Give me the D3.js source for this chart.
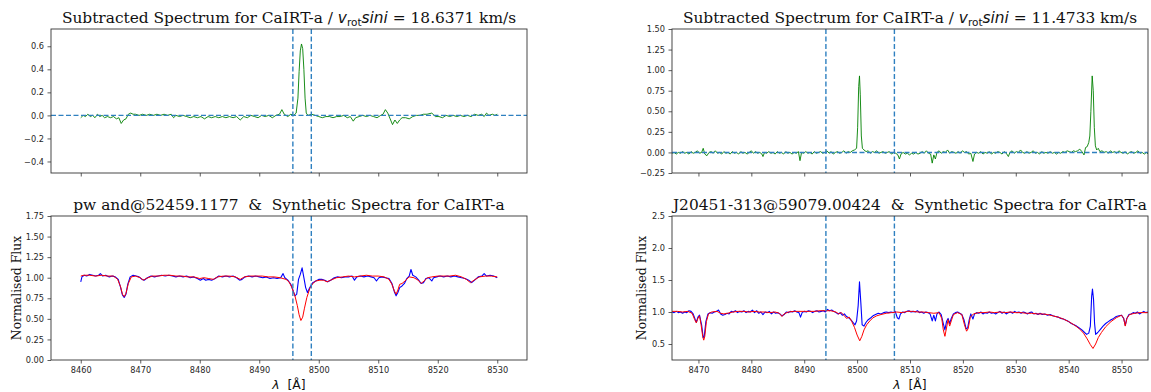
<!DOCTYPE html>
<html>
<head>
<meta charset="utf-8">
<script src="https://cdn.jsdelivr.net/npm/d3@7"></script>
<style>
  body { margin: 0; background: #fff; }
  svg { display: block; font-family: "DejaVu Sans", sans-serif; }
</style>
</head>
<body>
<div id="chart"></div>
<script>
// ---- data ----
// left star (pw and), wavelength in Angstrom, value
const subLeft = [[8460.0,-0.02],[8460.4,0.00],[8460.8,-0.01],[8461.2,0.01],[8461.6,-0.01],[8462.0,0.00],[8462.4,-0.02],[8462.8,0.01],[8463.2,-0.01],[8463.6,0.00],[8464.0,-0.02],[8464.5,-0.01],[8465.0,-0.02],[8465.5,-0.01],[8466.0,-0.03],[8466.4,-0.02],[8466.8,-0.07],[8467.2,-0.04],[8467.6,-0.03],[8468.0,0.01],[8468.4,0.02],[8468.8,0.01],[8469.2,0.01],[8469.8,0.00],[8470.4,0.01],[8471.0,0.00],[8471.6,0.01],[8472.2,0.00],[8472.8,0.01],[8473.4,0.00],[8474.0,0.01],[8474.6,0.00],[8475.2,0.01],[8475.6,-0.02],[8476.0,0.00],[8476.6,-0.01],[8477.2,0.00],[8477.8,-0.01],[8478.4,-0.02],[8479.0,-0.01],[8479.6,-0.02],[8480.2,-0.01],[8480.8,-0.03],[8481.4,-0.01],[8482.0,-0.02],[8482.6,-0.01],[8483.2,-0.02],[8483.8,-0.01],[8484.4,-0.02],[8485.0,-0.01],[8485.6,-0.02],[8486.2,-0.01],[8486.8,-0.04],[8487.4,-0.01],[8488.0,-0.02],[8488.6,0.00],[8489.2,-0.01],[8489.8,-0.02],[8490.4,0.00],[8491.0,-0.01],[8491.6,0.00],[8492.2,-0.02],[8492.8,0.00],[8493.4,0.01],[8493.8,0.05],[8494.2,0.01],[8494.8,-0.01],[8495.3,0.01],[8495.8,0.00],[8496.2,0.02],[8496.5,0.15],[8496.7,0.38],[8496.9,0.56],[8497.1,0.62],[8497.3,0.58],[8497.5,0.40],[8497.7,0.15],[8497.9,0.02],[8498.2,0.00],[8498.8,0.01],[8499.4,0.00],[8500.0,-0.01],[8500.6,-0.02],[8501.2,-0.01],[8501.8,-0.01],[8502.4,-0.02],[8503.0,-0.01],[8503.6,-0.01],[8504.2,0.00],[8504.8,-0.02],[8505.3,-0.01],[8505.8,-0.05],[8506.2,-0.02],[8506.8,-0.01],[8507.4,0.00],[8508.0,-0.01],[8508.6,0.00],[8509.2,-0.01],[8509.8,-0.02],[8510.4,0.00],[8510.8,0.01],[8511.2,0.05],[8511.6,0.02],[8512.0,-0.03],[8512.4,-0.08],[8512.8,-0.04],[8513.2,-0.07],[8513.6,-0.04],[8514.0,-0.02],[8514.6,-0.02],[8515.2,-0.03],[8515.8,-0.01],[8516.4,0.00],[8517.0,0.00],[8517.6,0.01],[8518.2,0.01],[8519.0,0.02],[8519.6,-0.01],[8520.2,-0.01],[8520.8,-0.02],[8521.4,0.00],[8522.0,-0.01],[8522.6,0.00],[8523.2,-0.01],[8523.8,0.00],[8524.4,-0.01],[8525.0,0.00],[8525.6,-0.01],[8526.2,0.01],[8526.8,0.00],[8527.4,0.01],[8527.8,-0.01],[8528.2,0.02],[8528.6,0.00],[8529.2,0.01],[8529.6,0.00],[8530.0,0.01]];

const obsLeft = [[8460.0,0.95],[8460.2,1.01],[8460.6,1.03],[8461.0,1.02],[8461.5,1.04],[8462.0,1.03],[8462.5,1.02],[8463.0,1.03],[8463.3,1.05],[8463.7,1.02],[8464.2,1.03],[8464.8,1.01],[8465.3,1.02],[8465.8,1.01],[8466.3,0.98],[8466.7,0.88],[8467.0,0.79],[8467.3,0.76],[8467.6,0.80],[8467.9,0.92],[8468.3,1.01],[8468.8,1.03],[8469.3,1.02],[8469.8,1.01],[8470.3,0.98],[8470.7,0.97],[8471.2,1.00],[8471.8,1.02],[8472.4,1.01],[8473.0,1.02],[8473.6,1.03],[8474.2,1.02],[8474.8,1.03],[8475.4,1.02],[8476.0,1.01],[8476.6,1.02],[8477.2,1.01],[8477.8,1.02],[8478.4,1.00],[8479.0,1.01],[8479.6,0.99],[8480.1,0.97],[8480.6,0.99],[8481.0,0.97],[8481.5,0.98],[8482.0,0.97],[8482.6,0.99],[8483.2,1.02],[8483.8,1.01],[8484.4,1.02],[8485.0,1.01],[8485.6,1.02],[8486.2,1.00],[8486.7,0.97],[8487.1,0.98],[8487.6,1.01],[8488.2,1.02],[8488.8,1.01],[8489.4,1.02],[8490.0,1.01],[8490.6,1.00],[8491.2,1.01],[8491.8,0.99],[8492.4,1.00],[8493.0,0.99],[8493.6,1.00],[8494.0,1.05],[8494.3,1.00],[8494.8,0.97],[8495.3,0.92],[8495.7,0.84],[8496.0,0.78],[8496.3,0.80],[8496.6,0.98],[8496.9,1.04],[8497.2,1.12],[8497.5,1.00],[8497.8,0.88],[8498.1,0.82],[8498.5,0.88],[8499.0,0.94],[8499.5,0.96],[8500.0,0.98],[8500.5,0.98],[8501.0,0.97],[8501.5,0.95],[8502.0,0.97],[8502.6,1.00],[8503.2,1.01],[8503.8,1.00],[8504.4,1.01],[8505.0,1.01],[8505.6,1.02],[8506.0,0.97],[8506.4,1.01],[8507.0,1.02],[8507.6,1.01],[8508.2,1.02],[8508.8,1.01],[8509.3,1.00],[8509.7,0.96],[8510.1,1.00],[8510.6,1.01],[8511.2,1.00],[8511.8,0.99],[8512.3,0.93],[8512.7,0.83],[8513.0,0.78],[8513.3,0.82],[8513.6,0.88],[8514.0,0.90],[8514.4,0.93],[8514.8,0.99],[8515.2,1.02],[8515.5,1.10],[8515.8,1.03],[8516.3,1.01],[8516.8,0.97],[8517.2,0.93],[8517.6,0.94],[8518.0,0.99],[8518.5,1.00],[8519.0,0.96],[8519.3,1.00],[8519.8,1.01],[8520.4,1.02],[8521.0,1.01],[8521.6,1.02],[8522.2,1.01],[8522.8,1.02],[8523.4,1.01],[8524.0,1.00],[8524.6,0.99],[8525.2,0.97],[8525.7,0.94],[8526.2,0.97],[8526.8,1.01],[8527.4,1.02],[8527.8,1.05],[8528.2,1.02],[8528.8,1.03],[8529.4,1.02],[8530.0,1.00]];

const synLeft = [[8460.0,1.02],[8460.5,1.03],[8461.5,1.03],[8462.5,1.02],[8463.5,1.03],[8464.5,1.02],[8465.5,1.02],[8466.2,0.98],[8466.7,0.89],[8467.0,0.80],[8467.3,0.77],[8467.6,0.81],[8468.0,0.93],[8468.5,1.01],[8469.2,1.02],[8470.0,1.00],[8470.5,0.97],[8471.0,0.99],[8472.0,1.02],[8473.0,1.02],[8474.0,1.03],[8475.0,1.03],[8476.0,1.02],[8477.0,1.02],[8478.0,1.01],[8479.0,1.01],[8480.0,0.99],[8480.7,1.00],[8481.5,0.99],[8482.3,0.98],[8483.0,1.01],[8484.0,1.02],[8485.0,1.02],[8486.0,1.01],[8486.8,0.98],[8487.5,1.01],[8488.5,1.02],[8489.5,1.02],[8490.5,1.02],[8491.5,1.01],[8492.5,1.01],[8493.5,1.00],[8494.5,0.98],[8495.0,0.95],[8495.5,0.88],[8496.0,0.78],[8496.4,0.66],[8496.7,0.55],[8497.0,0.48],[8497.3,0.52],[8497.6,0.63],[8498.0,0.76],[8498.5,0.87],[8499.0,0.93],[8499.5,0.96],[8500.2,0.97],[8500.8,0.97],[8501.4,0.95],[8502.0,0.97],[8503.0,1.00],[8504.0,1.01],[8505.0,1.02],[8506.0,1.01],[8507.0,1.02],[8508.0,1.03],[8509.0,1.02],[8510.0,1.02],[8511.0,1.01],[8511.8,0.98],[8512.3,0.92],[8512.7,0.84],[8513.0,0.80],[8513.3,0.85],[8513.6,0.92],[8514.0,0.93],[8514.5,0.96],[8515.2,1.01],[8516.0,1.00],[8516.7,0.97],[8517.2,0.93],[8517.7,0.96],[8518.3,1.00],[8519.0,1.01],[8520.0,1.02],[8521.0,1.02],[8522.0,1.02],[8523.0,1.03],[8524.0,1.01],[8524.8,0.98],[8525.5,0.94],[8526.1,0.97],[8527.0,1.01],[8528.0,1.02],[8529.0,1.02],[8530.0,1.01]];

// right star (J20451-313)
const subRight = [[8465.0,-0.01],[8465.4,0.00],[8465.8,-0.02],[8466.2,0.00],[8466.6,-0.01],[8467.0,0.01],[8467.4,-0.01],[8467.8,0.00],[8468.2,-0.02],[8468.6,0.01],[8469.0,-0.01],[8469.4,0.00],[8469.8,0.02],[8470.2,-0.01],[8470.6,0.00],[8470.9,0.05],[8471.2,-0.02],[8471.6,-0.04],[8472.0,0.00],[8472.4,0.01],[8472.8,-0.01],[8473.2,0.02],[8473.6,-0.01],[8474.0,0.00],[8474.4,-0.02],[8474.8,0.01],[8475.2,-0.01],[8475.6,0.00],[8476.0,-0.02],[8476.4,0.01],[8476.8,-0.01],[8477.2,0.00],[8477.6,-0.02],[8478.0,0.01],[8478.4,-0.01],[8478.8,0.00],[8479.2,-0.02],[8479.6,0.00],[8480.0,0.02],[8480.4,-0.01],[8480.8,0.01],[8481.2,-0.01],[8481.6,0.00],[8482.0,-0.02],[8482.2,-0.05],[8482.5,0.00],[8482.9,-0.01],[8483.3,0.01],[8483.7,-0.01],[8484.1,0.00],[8484.5,-0.02],[8484.9,0.01],[8485.3,-0.01],[8485.7,0.00],[8486.1,-0.02],[8486.5,0.01],[8486.9,-0.01],[8487.3,0.00],[8487.7,-0.02],[8488.1,0.00],[8488.5,-0.01],[8488.9,0.01],[8489.2,-0.10],[8489.5,0.00],[8489.9,-0.01],[8490.3,0.01],[8490.7,-0.01],[8491.1,0.00],[8491.5,-0.02],[8491.9,0.01],[8492.3,-0.01],[8492.7,0.00],[8493.1,0.01],[8493.5,-0.01],[8493.9,0.00],[8494.3,0.02],[8494.7,-0.01],[8495.1,0.01],[8495.5,-0.02],[8495.9,0.00],[8496.3,0.01],[8496.7,-0.01],[8497.1,0.00],[8497.5,0.02],[8497.9,-0.01],[8498.3,0.01],[8498.7,0.00],[8499.1,0.02],[8499.5,0.03],[8499.9,0.05],[8500.1,0.30],[8500.3,0.80],[8500.45,0.93],[8500.6,0.70],[8500.8,0.20],[8501.0,0.05],[8501.3,0.03],[8501.7,0.01],[8502.1,0.02],[8502.5,-0.01],[8502.9,0.01],[8503.3,0.00],[8503.7,0.02],[8504.1,-0.01],[8504.5,0.00],[8504.9,0.01],[8505.3,-0.01],[8505.7,0.00],[8506.1,0.01],[8506.5,-0.02],[8506.9,0.00],[8507.3,-0.01],[8507.7,-0.03],[8508.0,-0.08],[8508.3,-0.02],[8508.7,0.00],[8509.1,-0.02],[8509.5,-0.01],[8509.9,-0.03],[8510.3,-0.01],[8510.7,-0.02],[8511.1,0.00],[8511.5,-0.02],[8511.9,-0.01],[8512.3,0.01],[8512.7,-0.01],[8513.1,0.02],[8513.5,-0.01],[8513.9,-0.02],[8514.2,-0.13],[8514.5,-0.03],[8514.8,-0.08],[8515.1,0.00],[8515.5,0.02],[8515.9,-0.01],[8516.3,0.01],[8516.7,0.00],[8517.1,0.03],[8517.5,-0.01],[8517.9,0.01],[8518.3,0.00],[8518.7,-0.01],[8519.1,0.01],[8519.5,-0.01],[8519.9,0.02],[8520.3,0.00],[8520.7,0.01],[8521.1,-0.02],[8521.5,-0.01],[8521.9,-0.11],[8522.2,-0.02],[8522.6,0.00],[8523.0,-0.01],[8523.4,0.01],[8523.8,-0.02],[8524.2,0.00],[8524.6,-0.01],[8525.0,0.01],[8525.4,-0.02],[8525.8,0.00],[8526.2,-0.01],[8526.6,0.01],[8527.0,0.00],[8527.4,-0.02],[8527.8,0.01],[8528.2,-0.01],[8528.6,-0.05],[8528.9,0.00],[8529.3,0.02],[8529.7,-0.01],[8530.1,0.01],[8530.5,0.00],[8530.9,0.03],[8531.3,0.00],[8531.7,-0.01],[8532.1,0.01],[8532.5,-0.01],[8532.9,0.00],[8533.3,0.02],[8533.7,-0.01],[8534.1,0.00],[8534.5,-0.02],[8534.9,0.01],[8535.3,-0.01],[8535.7,0.00],[8536.1,-0.01],[8536.5,0.01],[8536.9,-0.01],[8537.3,0.00],[8537.7,-0.02],[8538.1,0.00],[8538.5,-0.01],[8538.9,0.01],[8539.3,0.00],[8539.7,0.02],[8540.1,0.01],[8540.5,0.00],[8540.9,0.02],[8541.3,0.01],[8541.7,0.02],[8542.1,0.04],[8542.5,0.01],[8542.9,-0.03],[8543.2,0.06],[8543.5,0.07],[8543.8,0.12],[8544.0,0.20],[8544.2,0.50],[8544.45,0.93],[8544.65,0.75],[8544.85,0.30],[8545.05,0.08],[8545.3,0.03],[8545.6,0.05],[8545.9,0.01],[8546.3,0.02],[8546.7,0.00],[8547.1,0.01],[8547.5,-0.01],[8547.9,0.02],[8548.3,0.00],[8548.7,0.01],[8549.1,-0.01],[8549.5,0.02],[8549.9,0.00],[8550.3,-0.01],[8550.7,0.01],[8551.1,-0.02],[8551.5,0.00],[8551.9,0.01],[8552.3,-0.01],[8552.7,0.00],[8553.1,0.02],[8553.5,-0.01],[8553.9,0.00],[8554.3,-0.02],[8554.7,0.00],[8555.0,-0.02]];

const obsRight = [[8465.0,1.00],[8465.4,0.99],[8465.8,1.01],[8466.2,0.99],[8466.6,1.00],[8467.0,0.98],[8467.4,1.00],[8467.8,0.99],[8468.2,1.02],[8468.6,1.01],[8469.0,0.97],[8469.4,0.88],[8469.6,0.84],[8469.9,0.92],[8470.2,0.95],[8470.6,0.80],[8470.9,0.60],[8471.1,0.62],[8471.4,0.85],[8471.8,0.97],[8472.2,0.99],[8472.6,0.98],[8473.0,1.00],[8473.4,1.01],[8473.8,1.03],[8474.2,0.97],[8474.6,0.95],[8475.0,0.96],[8475.4,0.98],[8475.8,0.97],[8476.2,1.01],[8476.6,1.00],[8477.0,1.02],[8477.4,0.99],[8477.8,1.01],[8478.2,1.00],[8478.6,1.02],[8479.0,0.99],[8479.4,1.01],[8479.8,1.00],[8480.2,1.03],[8480.6,0.99],[8481.0,1.02],[8481.4,0.98],[8481.8,1.00],[8482.2,0.96],[8482.6,1.00],[8483.0,0.99],[8483.4,1.01],[8483.8,0.97],[8484.2,1.00],[8484.6,0.98],[8485.0,0.99],[8485.4,0.97],[8485.8,0.94],[8486.2,0.96],[8486.6,1.00],[8487.0,0.99],[8487.4,1.01],[8487.8,1.00],[8488.2,1.02],[8488.6,1.00],[8489.0,0.99],[8489.3,0.92],[8489.6,0.99],[8490.0,1.01],[8490.4,1.00],[8490.8,1.02],[8491.2,1.01],[8491.6,0.99],[8492.0,1.01],[8492.4,1.02],[8492.8,1.00],[8493.2,1.01],[8493.6,1.02],[8494.0,1.00],[8494.4,1.04],[8494.8,1.02],[8495.2,1.03],[8495.6,1.01],[8496.0,0.99],[8496.4,0.97],[8496.8,0.99],[8497.2,0.95],[8497.6,0.97],[8498.0,0.93],[8498.4,0.91],[8498.8,0.88],[8499.2,0.84],[8499.6,0.80],[8499.9,0.86],[8500.2,1.10],[8500.45,1.47],[8500.7,1.15],[8500.95,0.80],[8501.3,0.78],[8501.7,0.84],[8502.1,0.88],[8502.6,0.91],[8503.0,0.94],[8503.5,0.96],[8504.0,0.98],[8504.5,0.97],[8505.0,0.99],[8505.5,1.00],[8506.0,0.99],[8506.4,1.00],[8506.8,0.99],[8507.2,1.01],[8507.6,0.91],[8507.9,0.89],[8508.2,0.97],[8508.6,1.00],[8509.0,0.99],[8509.4,1.01],[8509.8,1.02],[8510.2,1.00],[8510.6,1.01],[8511.0,1.00],[8511.4,1.02],[8511.8,0.99],[8512.2,1.00],[8512.6,0.98],[8513.0,1.00],[8513.4,0.99],[8513.8,0.97],[8514.2,0.86],[8514.5,0.95],[8514.8,0.86],[8515.1,0.97],[8515.5,1.00],[8515.9,0.96],[8516.3,0.82],[8516.6,0.72],[8516.9,0.85],[8517.2,0.90],[8517.5,0.82],[8517.8,0.90],[8518.2,0.97],[8518.6,0.99],[8519.0,1.00],[8519.4,0.98],[8519.8,0.96],[8520.2,0.88],[8520.6,0.74],[8520.9,0.75],[8521.2,0.88],[8521.5,0.97],[8521.9,0.89],[8522.2,0.97],[8522.6,0.99],[8523.0,0.98],[8523.4,1.00],[8523.8,0.97],[8524.2,0.99],[8524.6,0.98],[8525.0,1.00],[8525.4,0.98],[8525.8,0.99],[8526.2,0.97],[8526.6,0.99],[8527.0,1.01],[8527.4,0.98],[8527.8,1.00],[8528.2,0.97],[8528.6,0.99],[8529.0,1.00],[8529.4,0.98],[8529.8,1.01],[8530.2,0.99],[8530.6,1.00],[8531.0,0.98],[8531.4,1.00],[8531.8,0.99],[8532.2,0.97],[8532.6,0.99],[8533.0,1.00],[8533.4,0.97],[8533.8,0.98],[8534.2,0.96],[8534.6,0.98],[8535.0,0.96],[8535.5,0.97],[8536.0,0.95],[8536.5,0.96],[8537.0,0.94],[8537.5,0.93],[8538.0,0.92],[8538.5,0.90],[8539.0,0.89],[8539.5,0.87],[8540.0,0.85],[8540.5,0.82],[8541.0,0.80],[8541.5,0.78],[8542.0,0.75],[8542.5,0.72],[8543.0,0.68],[8543.4,0.65],[8543.8,0.67],[8544.1,0.78],[8544.35,1.25],[8544.5,1.36],[8544.7,1.20],[8544.9,0.82],[8545.1,0.65],[8545.5,0.68],[8546.0,0.73],[8546.5,0.78],[8547.0,0.82],[8547.5,0.85],[8548.0,0.88],[8548.5,0.90],[8549.0,0.93],[8549.5,0.94],[8550.0,0.95],[8550.4,0.90],[8550.7,0.79],[8551.0,0.90],[8551.4,0.96],[8551.8,0.97],[8552.2,0.99],[8552.6,0.98],[8553.0,1.00],[8553.4,0.97],[8553.8,0.99],[8554.2,1.01],[8554.6,0.99],[8555.0,1.00]];

const synRight = [[8465.0,1.01],[8466.0,1.01],[8467.0,1.00],[8468.0,1.01],[8468.8,0.98],[8469.3,0.88],[8469.6,0.83],[8469.9,0.90],[8470.2,0.94],[8470.5,0.80],[8470.8,0.62],[8471.0,0.56],[8471.2,0.62],[8471.5,0.85],[8471.9,0.97],[8472.5,1.00],[8473.5,1.01],[8474.2,0.98],[8474.8,0.97],[8475.5,0.98],[8476.5,1.00],[8477.5,1.01],[8478.5,1.01],[8479.5,1.00],[8480.5,1.01],[8481.5,1.00],[8482.5,1.00],[8483.5,0.99],[8484.5,1.00],[8485.3,0.98],[8485.8,0.93],[8486.2,0.97],[8487.0,1.00],[8488.0,1.01],[8489.0,1.01],[8490.0,1.01],[8491.0,1.01],[8492.0,1.01],[8493.0,1.02],[8494.0,1.02],[8495.0,1.02],[8496.0,1.00],[8496.5,0.97],[8497.0,0.99],[8497.5,0.95],[8498.0,0.90],[8498.5,0.92],[8499.0,0.85],[8499.5,0.76],[8500.0,0.64],[8500.5,0.55],[8500.9,0.62],[8501.3,0.72],[8501.8,0.80],[8502.4,0.86],[8503.0,0.91],[8503.7,0.94],[8504.5,0.96],[8505.5,0.98],[8506.5,0.99],[8507.5,1.00],[8508.5,0.99],[8509.5,1.01],[8510.5,1.01],[8511.5,1.00],[8512.5,1.00],[8513.5,0.99],[8514.5,0.98],[8515.5,0.99],[8516.0,0.90],[8516.3,0.72],[8516.6,0.62],[8516.9,0.75],[8517.2,0.88],[8517.5,0.78],[8517.8,0.86],[8518.2,0.96],[8519.0,0.99],[8519.8,0.96],[8520.3,0.80],[8520.7,0.70],[8521.0,0.74],[8521.4,0.92],[8522.0,0.97],[8523.0,0.99],[8524.0,0.99],[8525.0,1.00],[8526.0,0.99],[8527.0,1.00],[8528.0,0.99],[8529.0,1.00],[8530.0,0.99],[8531.0,0.99],[8532.0,0.98],[8533.0,0.98],[8534.0,0.97],[8535.0,0.97],[8536.0,0.96],[8537.0,0.94],[8538.0,0.92],[8539.0,0.89],[8540.0,0.85],[8541.0,0.80],[8542.0,0.74],[8542.8,0.67],[8543.5,0.58],[8544.1,0.49],[8544.6,0.43],[8545.1,0.50],[8545.6,0.60],[8546.2,0.68],[8547.0,0.77],[8548.0,0.85],[8549.0,0.91],[8550.0,0.95],[8550.4,0.90],[8550.7,0.78],[8551.0,0.90],[8551.5,0.96],[8552.5,0.98],[8553.5,0.99],[8555.0,0.99]];

// integration windows (dashed verticals)
const windowLeft = [8495.65, 8498.75];
const windowRight = [8494.1, 8507.05];

// axis ranges and ticks
const xDomainLeft = [8455, 8535];
const xDomainRight = [8465, 8555];
const xTicksLeft = [8460, 8470, 8480, 8490, 8500, 8510, 8520, 8530];
const xTicksRight = [8470, 8480, 8490, 8500, 8510, 8520, 8530, 8540, 8550];
const yTicksSubLeft = [-0.4, -0.2, 0.0, 0.2, 0.4, 0.6];
const yTicksSubRight = [-0.25, 0, 0.25, 0.5, 0.75, 1.0, 1.25, 1.5];
const yTicksFluxLeft = [0, 0.25, 0.5, 0.75, 1.0, 1.25, 1.5, 1.75];
const yTicksFluxRight = [0.5, 1.0, 1.5, 2.0, 2.5];

const vsiniLeft = "18.6371";
const vsiniRight = "11.4733";
const starLeft = "pw and@52459.1177";
const starRight = "J20451-313@59079.00424";

// ---- layout ----
const W = 1151, H = 392;
const colX = [51, 672], colW = 476;
const rowY = [29, 216], rowH = 144;
const titleSize = "15.4px", labelSize = "12.4px", tickSize = "8.2px";

const svg = d3.select("#chart").append("svg")
  .attr("width", W).attr("height", H);

let clipId = 0;

function drawPanel(cfg) {
  const g = svg.append("g");
  const x = d3.scaleLinear().domain(cfg.xDomain).range([cfg.left, cfg.left + colW]);
  const y = d3.scaleLinear().domain(cfg.yDomain).range([cfg.top + rowH, cfg.top]);

  const id = "clip" + (clipId++);
  g.append("clipPath").attr("id", id)
    .append("rect")
    .attr("x", cfg.left).attr("y", cfg.top)
    .attr("width", colW).attr("height", rowH);

  const plot = g.append("g").attr("clip-path", `url(#${id})`);
  const line = d3.line().x(d => x(d[0])).y(d => y(d[1]));

  cfg.series.forEach(s => {
    plot.append("path")
      .datum(s.data)
      .attr("d", line)
      .attr("fill", "none")
      .attr("stroke", s.color)
      .attr("stroke-width", s.width)
      .attr("stroke-linejoin", "round");
  });

  // dashed window lines
  cfg.vlines.forEach(v => {
    plot.append("line")
      .attr("x1", x(v)).attr("x2", x(v))
      .attr("y1", cfg.top).attr("y2", cfg.top + rowH)
      .attr("stroke", "#2f80c0").attr("stroke-width", 1.4)
      .attr("stroke-dasharray", "5,2.5");
  });
  if (cfg.hline !== undefined) {
    plot.append("line")
      .attr("x1", cfg.left).attr("x2", cfg.left + colW)
      .attr("y1", y(cfg.hline)).attr("y2", y(cfg.hline))
      .attr("stroke", "#2f80c0").attr("stroke-width", 1.4)
      .attr("stroke-dasharray", "5,2.5");
  }

  // axes
  const xa = g.append("g")
    .attr("transform", `translate(0,${cfg.top + rowH})`)
    .call(d3.axisBottom(x).tickValues(cfg.xTicks).tickSize(3.5).tickPadding(3.5)
      .tickFormat(cfg.xLabels ? d3.format("d") : () => ""));
  const ya = g.append("g")
    .attr("transform", `translate(${cfg.left},0)`)
    .call(d3.axisLeft(y).tickValues(cfg.yTicks).tickSize(3.5).tickPadding(3.5)
      .tickFormat(d3.format(cfg.yFormat)));
  [xa, ya].forEach(a => {
    a.select(".domain").remove();
    a.selectAll(".tick line").attr("stroke", "#333").attr("stroke-width", 0.8);
    a.selectAll(".tick text").attr("fill", "#262626")
      .style("font-family", "DejaVu Sans").style("font-size", tickSize);
  });

  g.append("rect")
    .attr("x", cfg.left).attr("y", cfg.top)
    .attr("width", colW).attr("height", rowH)
    .attr("fill", "none").attr("stroke", "#333").attr("stroke-width", 0.9);

  return { x, y };
}

function subTitle(cx, vsini) {
  const t = svg.append("text")
    .attr("x", cx).attr("y", 23)
    .attr("text-anchor", "middle")
    .style("font-family", "DejaVu Serif")
    .style("font-size", titleSize)
    .attr("fill", "#111");
  t.append("tspan").text("Subtracted Spectrum for CaIRT-a / ");
  t.append("tspan").style("font-family", "DejaVu Sans").style("font-style", "italic").text("v");
  t.append("tspan").style("font-family", "DejaVu Sans").style("font-size", "10.5px")
    .attr("dy", 2.6).text("rot");
  t.append("tspan").style("font-family", "DejaVu Sans").style("font-style", "italic")
    .attr("dy", -2.6).text("sini");
  t.append("tspan").text(" = " + vsini + " km/s");
}

function fluxTitle(cx, star) {
  svg.append("text")
    .attr("x", cx).attr("y", 210)
    .attr("text-anchor", "middle")
    .style("font-family", "DejaVu Serif")
    .style("font-size", titleSize)
    .style("white-space", "pre")
    .attr("fill", "#111")
    .text(star + "  &  Synthetic Spectra for CaIRT-a");
}

function yLabel(cx) {
  svg.append("text")
    .attr("transform", `translate(${cx},${rowY[1] + rowH / 2}) rotate(-90)`)
    .attr("text-anchor", "middle")
    .attr("dy", "0.35em")
    .style("font-family", "DejaVu Serif")
    .style("font-size", labelSize)
    .attr("fill", "#111")
    .text("Normalised Flux");
}

function xLabel(cx) {
  const t = svg.append("text")
    .attr("x", cx).attr("y", 389)
    .attr("text-anchor", "middle")
    .style("font-family", "DejaVu Sans")
    .style("font-size", labelSize)
    .style("white-space", "pre")
    .attr("fill", "#111");
  t.append("tspan").style("font-style", "italic").text("λ");
  t.append("tspan").text("  [Å]");
}

// top row: subtracted spectra
drawPanel({
  left: colX[0], top: rowY[0], xDomain: xDomainLeft, yDomain: [-0.5, 0.75],
  xTicks: xTicksLeft, yTicks: yTicksSubLeft, yFormat: ".1f", xLabels: false,
  series: [{ data: subLeft, color: "#008000", width: 0.9 }],
  vlines: windowLeft, hline: 0
});
drawPanel({
  left: colX[1], top: rowY[0], xDomain: xDomainRight, yDomain: [-0.25, 1.5],
  xTicks: xTicksRight, yTicks: yTicksSubRight, yFormat: ".2f", xLabels: false,
  series: [{ data: subRight, color: "#008000", width: 0.9 }],
  vlines: windowRight, hline: 0
});

// bottom row: observed vs synthetic
drawPanel({
  left: colX[0], top: rowY[1], xDomain: xDomainLeft, yDomain: [0, 1.75],
  xTicks: xTicksLeft, yTicks: yTicksFluxLeft, yFormat: ".2f", xLabels: true,
  series: [{ data: obsLeft, color: "#0000ff", width: 1.1 }, { data: synLeft, color: "#ff0000", width: 1.0 }],
  vlines: windowLeft
});
drawPanel({
  left: colX[1], top: rowY[1], xDomain: xDomainRight, yDomain: [0.25, 2.5],
  xTicks: xTicksRight, yTicks: yTicksFluxRight, yFormat: ".1f", xLabels: true,
  series: [{ data: obsRight, color: "#0000ff", width: 1.1 }, { data: synRight, color: "#ff0000", width: 1.0 }],
  vlines: windowRight
});

subTitle(colX[0] + colW / 2, vsiniLeft);
subTitle(colX[1] + colW / 2, vsiniRight);
fluxTitle(colX[0] + colW / 2, starLeft);
fluxTitle(colX[1] + colW / 2, starRight);
yLabel(17);
yLabel(642);
xLabel(colX[0] + colW / 2);
xLabel(colX[1] + colW / 2);
</script>
</body>
</html>
